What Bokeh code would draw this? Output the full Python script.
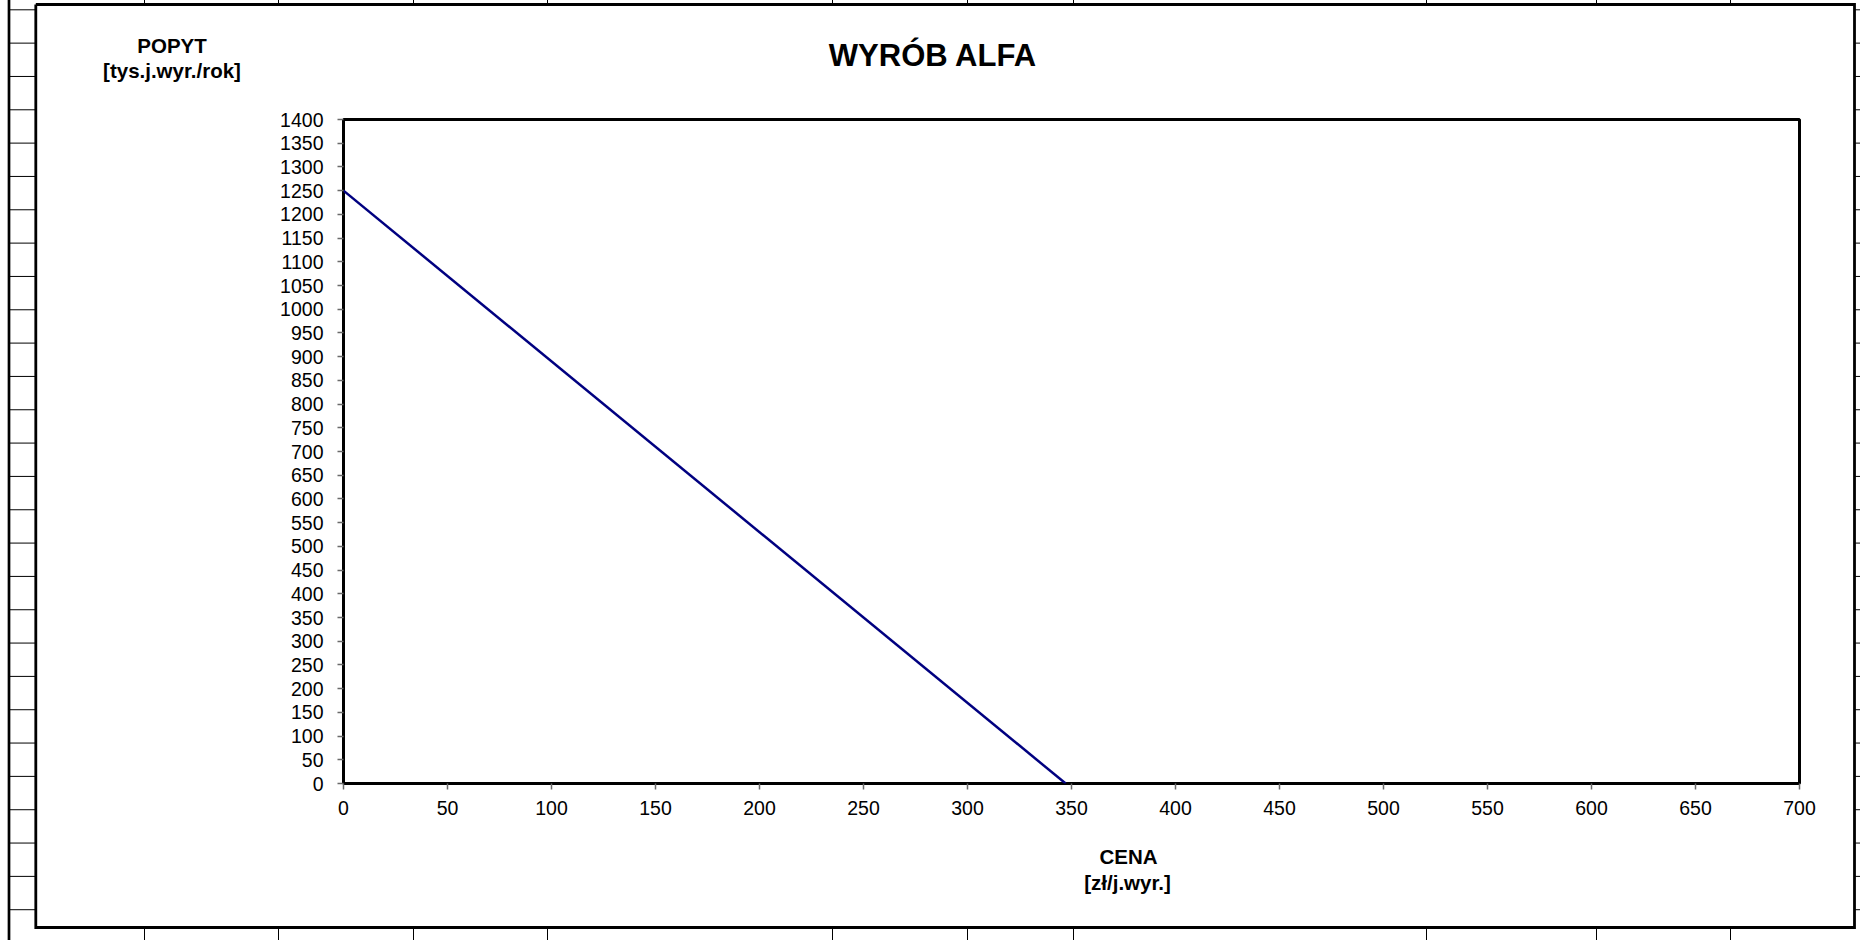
from bokeh.plotting import figure
from bokeh.models import Range1d, FixedTicker
from bokeh.core.properties import value
from bokeh.embed import file_html
from bokeh.resources import INLINE

# ---------------- data ----------------
cena = [0, 347.2]          # price [zł/j.wyr.]
popyt = [1250, 0]          # demand [tys.j.wyr./rok]
x_ticks = [0, 50, 100, 150, 200, 250, 300, 350, 400, 450, 500, 550, 600, 650, 700]
y_ticks = [0, 50, 100, 150, 200, 250, 300, 350, 400, 450, 500, 550, 600, 650, 700,
           750, 800, 850, 900, 950, 1000, 1050, 1100, 1150, 1200, 1250, 1300, 1350, 1400]
title_text = "WYRÓB ALFA"
y_label_lines = ["POPYT", "[tys.j.wyr./rok]"]
x_label_lines = ["CENA", "[zł/j.wyr.]"]

# ---------------- layout (canvas px) ----------------
W, H = 1860, 940
FL, FR, FT, FB = 343, 1799, 119, 783
X0, X1, Y0, Y1 = 0, 700, 0, 1400
FONT = "Liberation Sans"

p = figure(width=W, height=H, output_backend="svg", toolbar_location=None,
           x_range=Range1d(X0, X1), y_range=Range1d(Y0, Y1),
           min_border_left=FL, min_border_right=W - FR,
           min_border_top=FT, min_border_bottom=H - FB)

p.background_fill_color = "white"
p.border_fill_color = "white"
p.outline_line_color = "black"
p.outline_line_width = 3
p.grid.visible = False

for ax in (p.xaxis[0], p.yaxis[0]):
    ax.axis_line_color = None
    ax.major_tick_in = 0
    ax.major_tick_out = 6
    ax.major_tick_line_color = "#6a6a6a"
    ax.major_tick_line_width = 1.5
    ax.minor_tick_line_color = None
    ax.major_label_text_font = FONT
    ax.major_label_text_font_size = "19.5px"
    ax.major_label_text_color = "black"
p.xaxis[0].ticker = FixedTicker(ticks=x_ticks)
p.yaxis[0].ticker = FixedTicker(ticks=y_ticks)
p.xaxis[0].major_label_standoff = 11
p.yaxis[0].major_label_standoff = 14

p.line(cena, popyt, line_color="#000080", line_width=2.5)

# ---------------- helpers: canvas px -> data coords (for decoration only) ----------------
def dx(cx):
    return X0 + (cx - FL) * (X1 - X0) / (FR - FL)

def dy(cy):
    return Y0 + (FB - cy) * (Y1 - Y0) / (FB - FT)

# ---------------- sheet decoration ----------------
row_y = [9.3 + 33.33 * k for k in range(28)]
col_x = [144, 278, 413, 547, 832, 967, 1073, 1426, 1596, 1730]
sx0, sy0, sx1, sy1 = [], [], [], []
for y in row_y:
    sx0 += [8, 1854]; sx1 += [35, 1862]; sy0 += [y, y]; sy1 += [y, y]
for x in col_x:
    sx0 += [x, x]; sx1 += [x, x]; sy0 += [-2, 927]; sy1 += [4, 942]
p.segment(x0=[dx(v) for v in sx0], y0=[dy(v) for v in sy0],
          x1=[dx(v) for v in sx1], y1=[dy(v) for v in sy1],
          line_color="black", line_width=1, level="overlay")
p.segment(x0=[dx(8.5)], y0=[dy(-2)], x1=[dx(8.5)], y1=[dy(942)],
          line_color="black", line_width=2.7, level="overlay")
p.multi_line(xs=[[dx(35.3), dx(1854), dx(1854), dx(35.3), dx(35.3)]],
             ys=[[dy(4), dy(4), dy(927), dy(927), dy(4)]],
             line_color="black", line_width=2.8, line_join="miter", level="overlay")

# ---------------- texts ----------------
def lab(txt, cx, cy, size):
    p.text(x=[dx(cx)], y=[dy(cy)], text=[txt], text_align="center",
           text_baseline="alphabetic", text_font=value(FONT), text_font_style="bold",
           text_font_size=value(size), text_color="black", level="overlay")

lab(title_text, 932.5, 54.5, "31px")
lab(y_label_lines[0], 171.5, 44.5, "20.5px")
lab(y_label_lines[1], 171.5, 69.5, "20.5px")
lab(x_label_lines[0], 1128, 856, "20.5px")
lab(x_label_lines[1], 1127, 881.5, "20.5px")

open("out.html", "w").write(file_html(p, INLINE))
